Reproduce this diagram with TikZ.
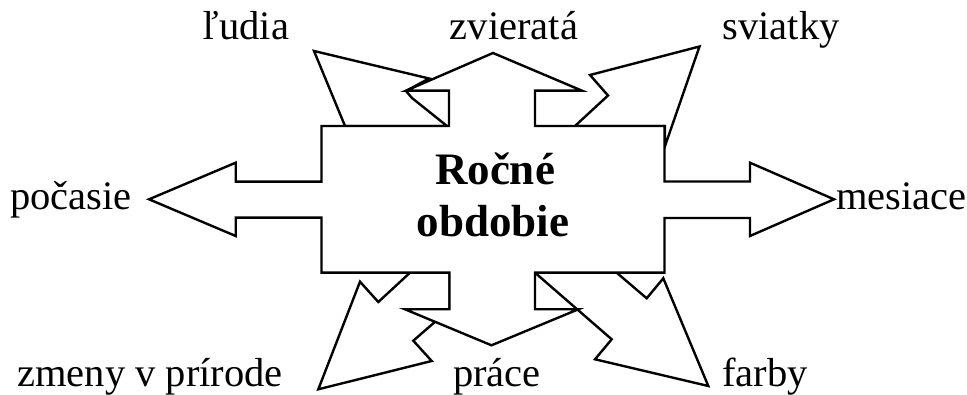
\documentclass[tikz,border=0pt]{standalone}
\usepackage{fontspec}
\setmainfont{Liberation Serif}
\begin{document}
\begin{tikzpicture}[x=1pt,y=-1pt,
  arrowshape/.style={draw=black,fill=white,line width=2.4pt,line join=miter},
  lbl/.style={font=\fontsize{40.5}{42}\selectfont,anchor=base,inner sep=0pt},
  ttl/.style={font=\fontsize{45}{47}\selectfont\bfseries,anchor=base,inner sep=0pt}]
\useasboundingbox (0,0) rectangle (967,395);
% diagonal arrows (behind)
\draw[arrowshape] (345,126) -- (314,51) -- (429,78.5) -- (406,91) -- (412,98) -- (447,126) -- cycle;
\draw[arrowshape] (575,126) -- (608,95.5) -- (590,75) -- (699.5,46.5) -- (665,146) -- (665,126) -- cycle;
\draw[arrowshape] (410,272.7) -- (378.3,302) -- (360,281.7) -- (318.3,389.3) -- (431.7,361) -- (413.3,340.7) -- (449.5,309.3) -- (449.5,272.7) -- cycle;
\draw[arrowshape] (535,272.7) -- (611.7,339.3) -- (595,359.3) -- (708.3,386) -- (663.3,278.3) -- (646.7,298.3) -- (616.7,272.7) -- cycle;
% central body with four arrows
\draw[arrowshape] (321.5,126) -- (449,126) -- (449,90.7) -- (406,90.7) -- (493,53) -- (582,90.7) -- (535,90.7) -- (535,126)
  -- (664.5,126) -- (664.5,181.5) -- (750,181.5) -- (750,162.7) -- (834,199.3) -- (750,236) -- (750,218) -- (664.5,218)
  -- (664.5,272.7) -- (535,272.7) -- (535,309.3) -- (578.3,309.3) -- (491.5,345.3) -- (405,309.3) -- (449.5,309.3) -- (449.5,272.7)
  -- (321.5,272.7) -- (321.5,217.7) -- (235.7,217.7) -- (235.7,236) -- (149,199.3) -- (235.7,162.7) -- (235.7,181.7) -- (321.5,181.7) -- cycle;
% title
\node[ttl] (t1) at (495,185) {Ročné};
\node[ttl] (t2) at (493,237) {obdobie};
% labels
\node[lbl] (ludia) at (246,40) {ľudia};
\node[lbl] (zvierata) at (514,40) {zvieratá};
\node[lbl] (sviatky) at (781,40) {sviatky};
\node[lbl] (pocasie) at (71,210) {počasie};
\node[lbl] (mesiace) at (901.5,210) {mesiace};
\node[lbl] (zmeny) at (150,387) {zmeny v prírode};
\node[lbl] (prace) at (497,387) {práce};
\node[lbl] (farby) at (765,387) {farby};
\end{tikzpicture}
\end{document}
